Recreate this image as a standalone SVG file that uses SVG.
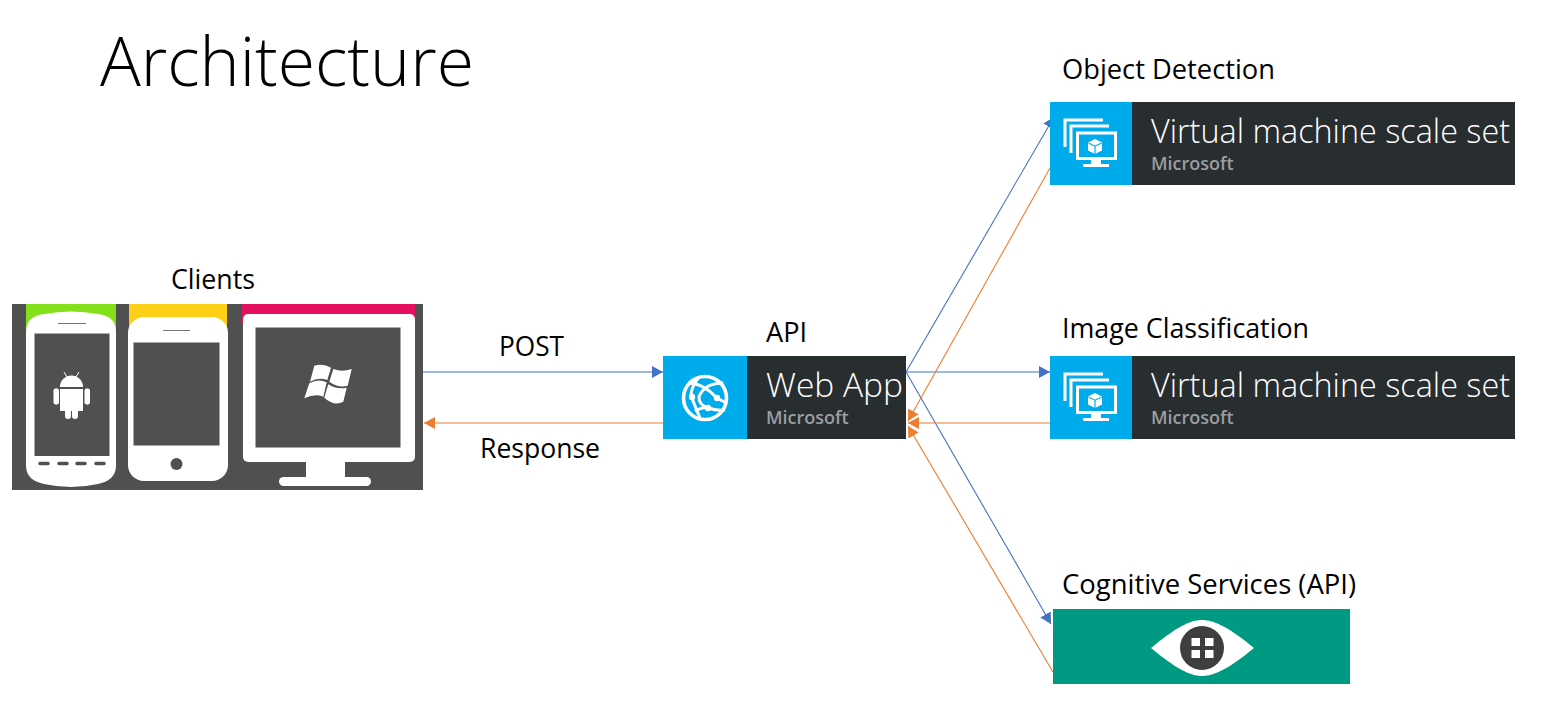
<svg xmlns="http://www.w3.org/2000/svg" width="1551" height="714" viewBox="0 0 1551 714">
<style>
text{font-family:"Open Sans","Noto Sans","Liberation Sans",sans-serif}
.lbl{font-size:26.500px;fill:#000}
.big{font-size:33px;fill:#fff;font-weight:300}
.ms{font-size:18px;fill:#9a9ea2;font-weight:600}
.blue{fill:#00abec}.dark{fill:#282d30}.w{fill:#fff}.sc{fill:#505050}
.ws{fill:none;stroke:#fff}
.cb{stroke:#4472c4;stroke-width:1.100;fill:none;marker-end:url(#ab)}
.co{stroke:#ed7d31;stroke-width:1.100;fill:none;marker-end:url(#ao)}
</style>
<defs>
<marker id="ab" markerUnits="userSpaceOnUse" markerWidth="12" markerHeight="12" refX="11" refY="6" orient="auto"><path d="M0 0L11 6L0 12z" fill="#4472c4"/></marker>
<marker id="ao" markerUnits="userSpaceOnUse" markerWidth="12" markerHeight="12" refX="11" refY="6" orient="auto"><path d="M0 0L11 6L0 12z" fill="#ed7d31"/></marker>
<g id="vmicon">
<path class="ws" stroke-width="3" d="M15 45V18H53M21 51V24H59"/>
<rect class="ws" stroke-width="3" x="27.500" y="31" width="38" height="25.500"/>
<path class="w" d="M41 58h10v4h8v3H33v-3h8z"/>
<path class="w" d="M45 37l7 3.500v8L45 52l-7-3.500v-8z"/>
<path d="M38.500 41l6.500 3.200 6.500-3.200M45 44.200V52" fill="none" stroke="#00abec" stroke-width="1.200"/>
</g>
</defs>
<rect width="1551" height="714" fill="#fff"/>
<text id="title" x="100" y="86" font-size="68" fill="#000" font-weight="300" textLength="374" lengthAdjust="spacingAndGlyphs">Architecture</text>

<g id="clients">
<rect x="12" y="304" width="411" height="186" class="sc"/>
<rect x="26" y="304" width="90" height="30" fill="#84e01a"/>
<rect x="129" y="304" width="98" height="30" fill="#fdd017"/>
<rect x="242" y="304" width="173" height="20" fill="#e5105f"/>
<path class="w" d="M26 332Q26 316 44 314Q71 309 98 314Q116 316 116 332V466Q116 480 98 484Q71 490 44 484Q26 480 26 466z"/>
<rect x="34.500" y="333.500" width="75" height="122.500" class="sc"/>
<path d="M58 323.500H86" stroke="#777" stroke-width="1"/>
<path d="M40 463.500h8M59 463.500h8M77 463.500h8M96 463.500h8" stroke="#505050" stroke-width="3.500" stroke-linecap="round"/>
<path class="w" d="M60 387a11.500 11.500 0 0 1 23 0zM60 389h23v22h-5v5a3 3 0 0 1-6 0v-5h-1v5a3 3 0 0 1-6 0v-5h-5zM53.500 390a3 3 0 0 1 5.500 0v13a3 3 0 0 1-5.500 0zM84.500 390a3 3 0 0 1 5.500 0v13a3 3 0 0 1-5.500 0z"/>
<path d="M64 372l3 5M79 372l-3 5" stroke="#fff" stroke-width="1"/>
<rect x="128" y="317" width="100" height="164" rx="16" class="w"/>
<rect x="133.500" y="342.500" width="86" height="103" class="sc"/>
<path d="M163 330.500H190" stroke="#777" stroke-width="1"/>
<circle cx="176.500" cy="464" r="6" class="sc"/>
<rect x="243" y="314" width="172" height="148" rx="5" class="w"/>
<rect x="255.500" y="327.500" width="145" height="120" class="sc"/>
<rect x="306" y="460" width="39" height="20" class="w"/>
<rect x="279" y="477" width="92" height="9" rx="4.500" class="w"/>
<path class="w" d="M314.300 365.700Q323.300 363.300 331 367.700L327.300 380Q318.300 376.700 310 381.700zM333.300 369Q341.700 372.300 351.700 369L347.700 385.700Q338.300 388.300 329.300 381.700zM309.300 383.300Q318.300 378.300 326.700 382.300L323.300 396.700Q315 393.300 304.300 398.300zM328.300 384.300Q336.700 390 346.700 387.700L343.300 401.700Q334.300 406.700 324.300 397.700z"/>
</g>
<text id="clients-label" class="lbl" x="171" y="289" textLength="84" lengthAdjust="spacingAndGlyphs">Clients</text>

<g id="connectors">
<path class="cb" d="M423 372H663"/>
<path class="co" d="M663 423H424"/>
<path class="cb" d="M906 372L1054 117"/>
<path class="cb" d="M906 372H1050"/>
<path class="cb" d="M906 372L1051 624"/>
<path class="co" d="M1050 168L908 421"/>
<path class="co" d="M1050 423H908"/>
<path class="co" d="M1053 672L908 426"/>
</g>
<text class="lbl" x="499" y="356" textLength="65" lengthAdjust="spacingAndGlyphs">POST</text>
<text class="lbl" x="480" y="458" textLength="120" lengthAdjust="spacingAndGlyphs">Response</text>

<g id="webapp">
<rect x="663" y="356" width="84" height="83" class="blue"/>
<rect x="747" y="356" width="159" height="83" class="dark"/>
<circle cx="705" cy="398" r="21.500" class="ws" stroke-width="3.600"/>
<path class="ws" stroke-width="3" d="M699 377Q688.300 391.300 692.300 398.700Q695 406.300 700 418M688.300 383Q703.300 383 716.700 398L726.700 403M723.300 383Q705 383 699 396.300Q698.300 404.700 708.300 408M695 411.300Q703.300 406.300 708.300 408Q718.300 411.300 725 409.700"/>
<circle cx="692" cy="397" r="3.200" class="w"/><circle cx="717" cy="398" r="3.200" class="w"/><circle cx="708" cy="408" r="3.200" class="w"/>
<text class="big" x="766" y="397" textLength="137" lengthAdjust="spacingAndGlyphs">Web App</text>
<text class="ms" x="766" y="424">Microsoft</text>
</g>
<text id="api-label" class="lbl" x="766" y="342" textLength="41" lengthAdjust="spacingAndGlyphs">API</text>

<g id="object-detection">
<rect x="1050" y="102" width="82" height="83" class="blue"/>
<rect x="1132" y="102" width="383" height="83" class="dark"/>
<use href="#vmicon" x="1050" y="102"/>
<text class="big" x="1151" y="143" textLength="359" lengthAdjust="spacingAndGlyphs">Virtual machine scale set</text>
<text class="ms" x="1151" y="170">Microsoft</text>
</g>
<text class="lbl" x="1062" y="79" textLength="213" lengthAdjust="spacingAndGlyphs">Object Detection</text>

<g id="image-classification">
<rect x="1050" y="356" width="82" height="83" class="blue"/>
<rect x="1132" y="356" width="383" height="83" class="dark"/>
<use href="#vmicon" x="1050" y="356"/>
<text class="big" x="1151" y="397" textLength="359" lengthAdjust="spacingAndGlyphs">Virtual machine scale set</text>
<text class="ms" x="1151" y="424">Microsoft</text>
</g>
<text class="lbl" x="1062" y="338" textLength="247" lengthAdjust="spacingAndGlyphs">Image Classification</text>

<g id="cognitive-services">
<rect x="1053" y="609" width="297" height="75" fill="#009a82"/>
<path class="w" d="M1151 648C1175 628 1190 620 1202 620C1214 620 1230 628 1254 648C1230 668 1214 676 1202 676C1190 676 1175 668 1151 648z"/>
<circle cx="1202" cy="648" r="22" fill="#3e3e40"/>
<rect x="1191.500" y="638" width="8.500" height="8" class="w"/><rect x="1205" y="638" width="8.500" height="8" class="w"/>
<rect x="1191.500" y="650" width="8.500" height="8" class="w"/><rect x="1205" y="650" width="8.500" height="8" class="w"/>
</g>
<text class="lbl" x="1062" y="594" textLength="294" lengthAdjust="spacingAndGlyphs">Cognitive Services (API)</text>
</svg>
